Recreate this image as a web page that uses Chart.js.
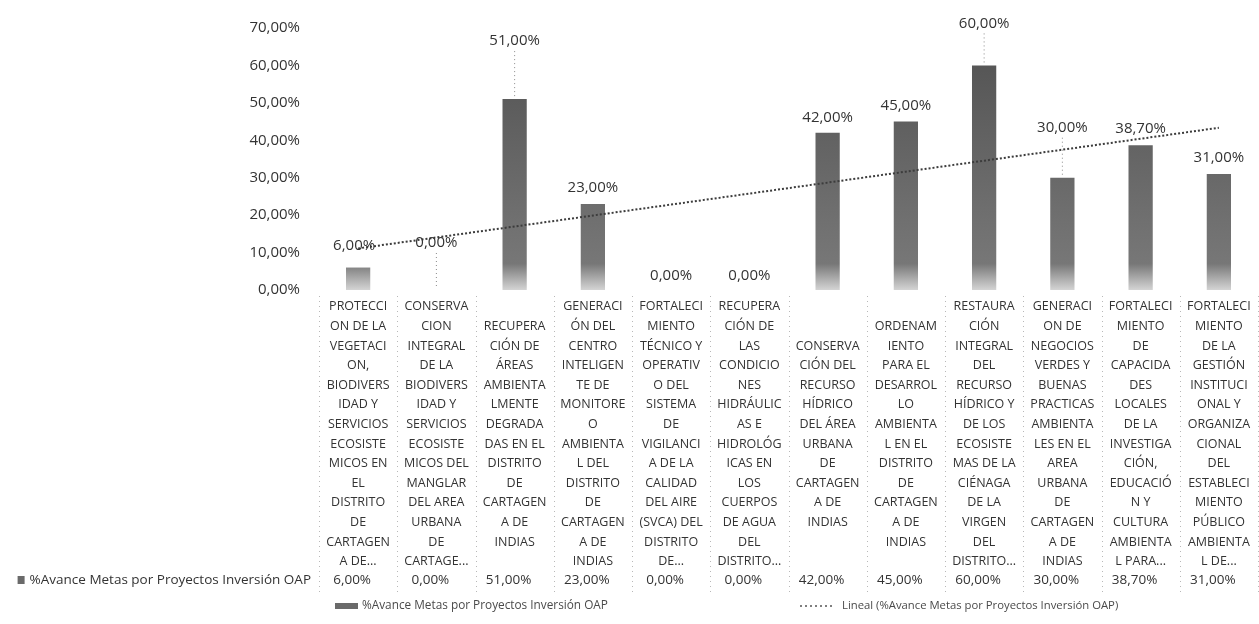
<!DOCTYPE html>
<html lang="es">
<head>
<meta charset="utf-8">
<title>%Avance Metas por Proyectos Inversión OAP</title>
<script src="https://cdn.jsdelivr.net/npm/chart.js@4.4.1/dist/chart.umd.min.js"></script>
<style>
  html, body { margin: 0; padding: 0; background: #fff; }
  #wrap { position: relative; width: 1259px; height: 624px; }
</style>
</head>
<body>
<div id="wrap"><canvas id="grafico"></canvas></div>
<script>
const serieNombre = '%Avance Metas por Proyectos Inversión OAP';
const tendenciaNombre = 'Lineal (%Avance Metas por Proyectos Inversión OAP)';

// nombres de proyectos, cortados como en la tabla original
const categorias = [
  ['PROTECCI', 'ON DE LA', 'VEGETACI', 'ON,', 'BIODIVERS', 'IDAD Y', 'SERVICIOS', 'ECOSISTE', 'MICOS EN', 'EL', 'DISTRITO', 'DE', 'CARTAGEN', 'A DE...'],
  ['CONSERVA', 'CION', 'INTEGRAL', 'DE LA', 'BIODIVERS', 'IDAD Y', 'SERVICIOS', 'ECOSISTE', 'MICOS DEL', 'MANGLAR', 'DEL AREA', 'URBANA', 'DE', 'CARTAGE...'],
  ['RECUPERA', 'CIÓN DE', 'ÁREAS', 'AMBIENTA', 'LMENTE', 'DEGRADA', 'DAS EN EL', 'DISTRITO', 'DE', 'CARTAGEN', 'A DE', 'INDIAS'],
  ['GENERACI', 'ÓN DEL', 'CENTRO', 'INTELIGEN', 'TE DE', 'MONITORE', 'O', 'AMBIENTA', 'L DEL', 'DISTRITO', 'DE', 'CARTAGEN', 'A DE', 'INDIAS'],
  ['FORTALECI', 'MIENTO', 'TÉCNICO Y', 'OPERATIV', 'O DEL', 'SISTEMA', 'DE', 'VIGILANCI', 'A DE LA', 'CALIDAD', 'DEL AIRE', '(SVCA) DEL', 'DISTRITO', 'DE...'],
  ['RECUPERA', 'CIÓN DE', 'LAS', 'CONDICIO', 'NES', 'HIDRÁULIC', 'AS E', 'HIDROLÓG', 'ICAS EN', 'LOS', 'CUERPOS', 'DE AGUA', 'DEL', 'DISTRITO...'],
  ['CONSERVA', 'CIÓN DEL', 'RECURSO', 'HÍDRICO', 'DEL ÁREA', 'URBANA', 'DE', 'CARTAGEN', 'A DE', 'INDIAS'],
  ['ORDENAM', 'IENTO', 'PARA EL', 'DESARROL', 'LO', 'AMBIENTA', 'L EN EL', 'DISTRITO', 'DE', 'CARTAGEN', 'A DE', 'INDIAS'],
  ['RESTAURA', 'CIÓN', 'INTEGRAL', 'DEL', 'RECURSO', 'HÍDRICO Y', 'DE LOS', 'ECOSISTE', 'MAS DE LA', 'CIÉNAGA', 'DE LA', 'VIRGEN', 'DEL', 'DISTRITO...'],
  ['GENERACI', 'ON DE', 'NEGOCIOS', 'VERDES Y', 'BUENAS', 'PRACTICAS', 'AMBIENTA', 'LES EN EL', 'AREA', 'URBANA', 'DE', 'CARTAGEN', 'A DE', 'INDIAS'],
  ['FORTALECI', 'MIENTO', 'DE', 'CAPACIDA', 'DES', 'LOCALES', 'DE LA', 'INVESTIGA', 'CIÓN,', 'EDUCACIÓ', 'N Y', 'CULTURA', 'AMBIENTA', 'L PARA...'],
  ['FORTALECI', 'MIENTO', 'DE LA', 'GESTIÓN', 'INSTITUCI', 'ONAL Y', 'ORGANIZA', 'CIONAL', 'DEL', 'ESTABLECI', 'MIENTO', 'PÚBLICO', 'AMBIENTA', 'L DE...']
];

const avance = [6, 0, 51, 23, 0, 0, 42, 45, 60, 30, 38.7, 31];
const ticksY = [0, 10, 20, 30, 40, 50, 60, 70];

const fmt = v => v.toFixed(2).replace('.', ',') + '%';

// centrar verticalmente las etiquetas (como en la tabla de datos de Excel)
const maxLineas = Math.max(...categorias.map(c => c.length));
const etiquetasX = categorias.map(c => Array(Math.floor((maxLineas - c.length) / 2)).fill('').concat(c));

// línea de tendencia lineal (mínimos cuadrados sobre la serie)
const n = avance.length;
const mx = (n + 1) / 2;
const my = avance.reduce((a, b) => a + b, 0) / n;
let sxy = 0, sxx = 0;
avance.forEach((v, i) => { sxy += (i + 1 - mx) * (v - my); sxx += (i + 1 - mx) ** 2; });
const pendiente = sxy / sxx;
const tendencia = avance.map((v, i) => my + pendiente * (i + 1 - mx));

const texto = '#333333';

function rellenoBarra(context) {
  const chart = context.chart;
  const area = chart.chartArea;
  if (!area) return '#6a6a6a';
  const g = chart.ctx.createLinearGradient(0, area.bottom, 0, area.top);
  g.addColorStop(0, '#d4d4d4');
  g.addColorStop(0.1, '#777777');
  g.addColorStop(1, '#505050');
  return g;
}

// etiquetas de datos sobre las barras
const etiquetas = {
  id: 'etiquetas',
  afterDatasetsDraw(chart) {
    const ctx = chart.ctx;
    const barras = chart.getDatasetMeta(0).data;
    const elevar = [22, 47, 58, 16, 14, 14, 15, 16, 42, 50, 16, 16];
    ctx.save();
    ctx.font = '15px "Open Sans"';
    ctx.fillStyle = texto;
    ctx.textAlign = 'center';
    ctx.textBaseline = 'middle';
    barras.forEach((b, i) => {
      const y = b.y - elevar[i];
      ctx.fillText(fmt(avance[i]), i === 0 ? b.x - 4 : b.x, y);
      if (elevar[i] > 30) {
        ctx.strokeStyle = '#8a8a8a';
        ctx.lineWidth = 1;
        ctx.setLineDash([1, 3]);
        ctx.beginPath();
        ctx.moveTo(b.x, y + 10);
        ctx.lineTo(b.x, b.y - 2);
        ctx.stroke();
        ctx.setLineDash([]);
      }
    });
    ctx.restore();
  }
};

// tabla de datos y leyenda
const tabla = {
  id: 'tabla',
  afterDraw(chart) {
    const ctx = chart.ctx;
    const x = chart.scales.x;
    const mitad = (x.getPixelForValue(1) - x.getPixelForValue(0)) / 2;
    ctx.save();

    ctx.strokeStyle = '#b8b8b8';
    ctx.lineWidth = 1;
    ctx.setLineDash([1, 4]);
    for (let i = 0; i <= avance.length; i++) {
      const xb = Math.round(x.getPixelForValue(0) - mitad + i * mitad * 2) + 0.5;
      ctx.beginPath();
      ctx.moveTo(xb, 296);
      ctx.lineTo(xb, 592);
      ctx.stroke();
    }
    ctx.setLineDash([]);

    const yFila = 580;
    ctx.textBaseline = 'middle';
    ctx.fillStyle = texto;
    ctx.font = '13.5px "Open Sans"';
    ctx.textAlign = 'right';
    ctx.fillText(serieNombre, 311, yFila);
    const ancho = ctx.measureText(serieNombre).width;
    ctx.fillStyle = '#6a6a6a';
    ctx.fillRect(311 - ancho - 12, yFila - 4, 7, 8);

    ctx.fillStyle = texto;
    ctx.textAlign = 'center';
    avance.forEach((v, i) => ctx.fillText(fmt(v), x.getPixelForValue(i) - 6, yFila));

    // leyenda
    const yLey = 606;
    ctx.font = '11.8px "Open Sans"';
    ctx.fillStyle = '#6a6a6a';
    ctx.fillRect(335, yLey - 3, 23, 6);
    ctx.fillStyle = '#4a4a4a';
    ctx.textAlign = 'left';
    ctx.fillText(serieNombre, 362, yLey);

    ctx.strokeStyle = '#555';
    ctx.lineWidth = 1.5;
    ctx.setLineDash([2, 3]);
    ctx.beginPath();
    ctx.moveTo(800, yLey);
    ctx.lineTo(835, yLey);
    ctx.stroke();
    ctx.setLineDash([]);
    ctx.font = '11.3px "Open Sans"';
    ctx.fillText(tendenciaNombre, 842, yLey);
    ctx.restore();
  }
};

new Chart(document.getElementById('grafico'), {
  type: 'bar',
  data: {
    labels: etiquetasX,
    datasets: [
      {
        label: serieNombre,
        data: avance,
        backgroundColor: rellenoBarra,
        borderWidth: 0,
        categoryPercentage: 1,
        barPercentage: 0.31,
        order: 2
      },
      {
        type: 'line',
        label: tendenciaNombre,
        data: tendencia,
        borderColor: '#3c3c3c',
        borderWidth: 2,
        borderDash: [2, 2],
        pointRadius: 0,
        fill: false,
        order: 1
      }
    ]
  },
  options: {
    responsive: true,
    maintainAspectRatio: false,
    animation: false,
    layout: { padding: { top: 20, right: 1, bottom: 0, left: 0 } },
    plugins: {
      legend: { display: false },
      tooltip: { enabled: false }
    },
    scales: {
      x: {
        grid: { display: false, drawTicks: false },
        border: { display: false },
        ticks: {
          autoSkip: false,
          maxRotation: 0,
          minRotation: 0,
          padding: 7,
          color: texto,
          font: { family: 'Open Sans', size: 12.5, lineHeight: '19.6px' }
        },
        afterFit(scale) { scale.height = 334; }
      },
      y: {
        min: ticksY[0],
        max: ticksY[ticksY.length - 1],
        grid: { display: false, drawTicks: false },
        border: { display: false },
        ticks: {
          stepSize: ticksY[1] - ticksY[0],
          padding: 19,
          color: texto,
          font: { family: 'Open Sans', size: 15 },
          callback: v => fmt(v)
        },
        afterFit(scale) { scale.width = 319; }
      }
    }
  },
  plugins: [etiquetas, tabla]
});
</script>
</body>
</html>
